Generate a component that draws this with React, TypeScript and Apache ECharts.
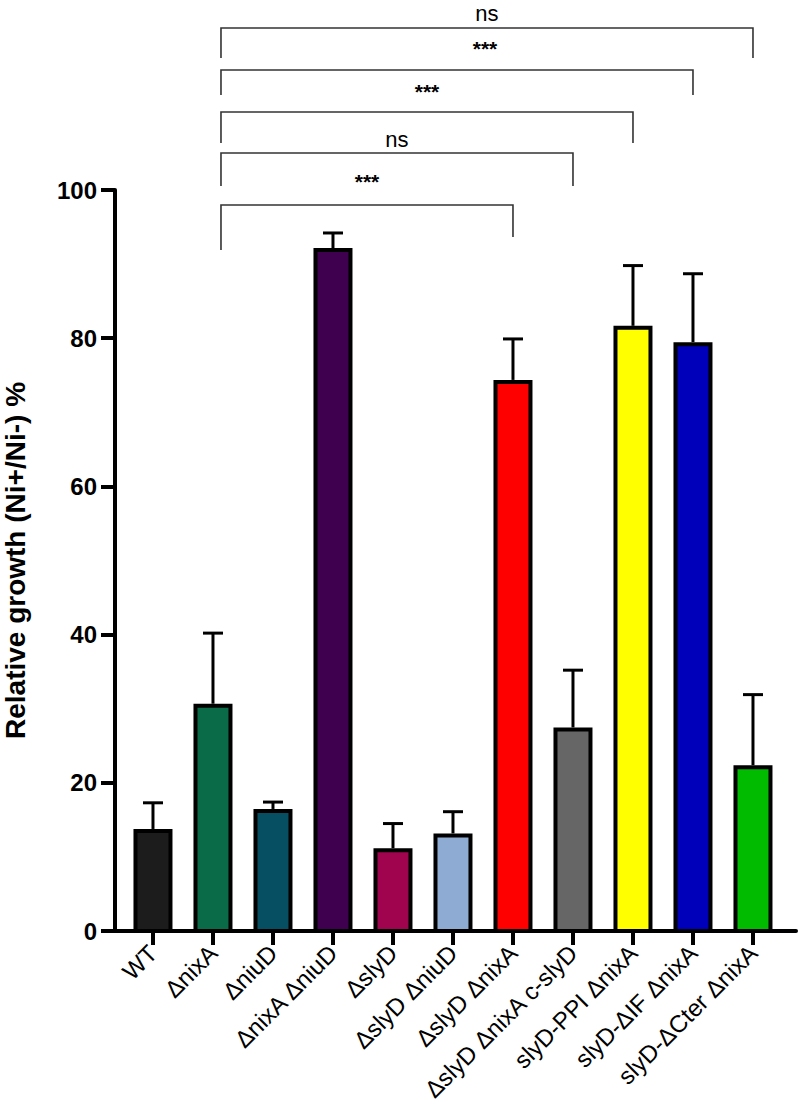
import React, { useEffect, useRef } from "react";
import * as echarts from "echarts";

const categories = [
  "WT",
  "ΔnixA",
  "ΔniuD",
  "ΔnixA ΔniuD",
  "ΔslyD",
  "ΔslyD ΔniuD",
  "ΔslyD ΔnixA",
  "ΔslyD ΔnixA c-slyD",
  "slyD-PPI ΔnixA",
  "slyD-ΔIF ΔnixA",
  "slyD-ΔCter ΔnixA",
];
const means = [13.5, 30.4, 16.2, 91.9, 10.9, 12.9, 74.1, 27.2, 81.4, 79.2, 22.1];
const sds = [3.8, 9.8, 1.2, 2.3, 3.6, 3.2, 5.8, 8.0, 8.4, 9.5, 9.8];
const barColors = [
  "#1c1c1c",
  "#096b48",
  "#064f63",
  "#3f0050",
  "#a0044e",
  "#8eabd3",
  "#ff0000",
  "#666666",
  "#ffff00",
  "#0000bb",
  "#00bb00",
];
const yTicks = [0, 20, 40, 60, 80, 100];
// comparisons: [from index, to index, label]
const compFrom = [1, 1, 1, 1, 1];
const compTo = [10, 9, 8, 7, 6];
const compLabels = ["ns", "***", "***", "ns", "***"];

// layout (pixels) for significance brackets
const bracketY = [28, 70, 112, 153, 205];
const bracketDropL = [58, 95, 143, 186, 250];
const bracketDropR = [58, 95, 143, 186, 237];
const labelY = [13, 48, 91, 139, 181];
const labelDX = [0, 28, 0, 0, 0];

const FONT = "'Liberation Sans', Arial, Helvetica, sans-serif";

export default function App() {
  const ref = useRef<HTMLDivElement>(null);
  useEffect(() => {
    document.body.style.margin = "0";
    const chart = echarts.init(ref.current!, null, { renderer: "svg" });
    const idx = categories.map((_, i) => i);
    chart.setOption({
      animation: false,
      backgroundColor: "#ffffff",
      grid: {
        left: 115,
        top: 190,
        width: 681,
        height: 741,
        containLabel: false,
        outerBoundsMode: "none",
      },
      xAxis: {
        type: "value",
        min: -0.633,
        max: 10.717,
        splitLine: { show: false },
        axisLine: { show: true, onZero: false, lineStyle: { color: "#000", width: 4 } },
        axisTick: {
          show: true,
          customValues: idx,
          length: 14,
          inside: false,
          lineStyle: { color: "#000", width: 4 },
        },
        axisLabel: {
          customValues: idx,
          rotate: 45,
          margin: 18,
          color: "#000",
          fontSize: 24,
          fontFamily: FONT,
          formatter: (v: number) => categories[Math.round(v)] ?? "",
        },
      },
      yAxis: {
        type: "value",
        min: 0,
        max: 100,
        interval: 20,
        name: "Relative growth (Ni+/Ni-) %",
        nameLocation: "middle",
        nameRotate: 90,
        nameGap: 86,
        nameTextStyle: { color: "#000", fontSize: 28, fontWeight: "bold", fontFamily: FONT },
        splitLine: { show: false },
        axisLine: { show: true, onZero: false, lineStyle: { color: "#000", width: 4 } },
        axisTick: { show: true, length: 14, lineStyle: { color: "#000", width: 4 } },
        axisLabel: {
          margin: 18,
          color: "#000",
          fontSize: 24,
          fontWeight: "bold",
          fontFamily: FONT,
          customValues: yTicks,
        },
      },
      series: [
        {
          type: "custom",
          z: 2,
          clip: false,
          data: means.map((m, i) => [i, m]),
          renderItem: (params: any, api: any) => {
            const i = params.dataIndex;
            const top = api.coord([api.value(0), api.value(1)]);
            const base = api.coord([api.value(0), 0]);
            const w = 35;
            return {
              type: "rect",
              shape: { x: top[0] - w / 2, y: top[1], width: w, height: base[1] - top[1] },
              style: { fill: barColors[i], stroke: "#000", lineWidth: 4 },
            };
          },
        },
        {
          type: "custom",
          z: 3,
          clip: false,
          data: means.map((m, i) => [i, m, m + sds[i]]),
          renderItem: (params: any, api: any) => {
            const x = api.value(0);
            const base = api.coord([x, api.value(1)]);
            const top = api.coord([x, api.value(2)]);
            const style = { stroke: "#000", lineWidth: 3 };
            return {
              type: "group",
              children: [
                { type: "line", shape: { x1: base[0], y1: base[1] - 2, x2: top[0], y2: top[1] }, style },
                { type: "line", shape: { x1: top[0] - 10, y1: top[1], x2: top[0] + 10, y2: top[1] }, style },
              ],
            };
          },
        },
        {
          type: "custom",
          z: 4,
          clip: false,
          silent: true,
          data: compFrom.map((f, k) => [f, compTo[k], k]),
          renderItem: (params: any, api: any) => {
            const k = api.value(2);
            const xa = api.coord([api.value(0), 0])[0] + 8;
            const xb = api.coord([api.value(1), 0])[0];
            const y = bracketY[k];
            return {
              type: "group",
              children: [
                {
                  type: "polyline",
                  shape: {
                    points: [
                      [xa, bracketDropL[k]],
                      [xa, y],
                      [xb, y],
                      [xb, bracketDropR[k]],
                    ],
                  },
                  style: { stroke: "#333", lineWidth: 1.6, fill: null },
                },
                {
                  type: "text",
                  x: (xa + xb) / 2 + labelDX[k],
                  y: labelY[k],
                  style: {
                    text: compLabels[k],
                    fill: "#000",
                    fontSize: compLabels[k] === "ns" ? 22 : 21,
                    fontWeight: compLabels[k] === "ns" ? "normal" : "bold",
                    fontFamily: FONT,
                    align: "center",
                    verticalAlign: "middle",
                  },
                },
              ],
            };
          },
        },
      ],
    });
    return () => chart.dispose();
  }, []);
  return <div ref={ref} style={{ width: 800, height: 1106 }} />;
}
